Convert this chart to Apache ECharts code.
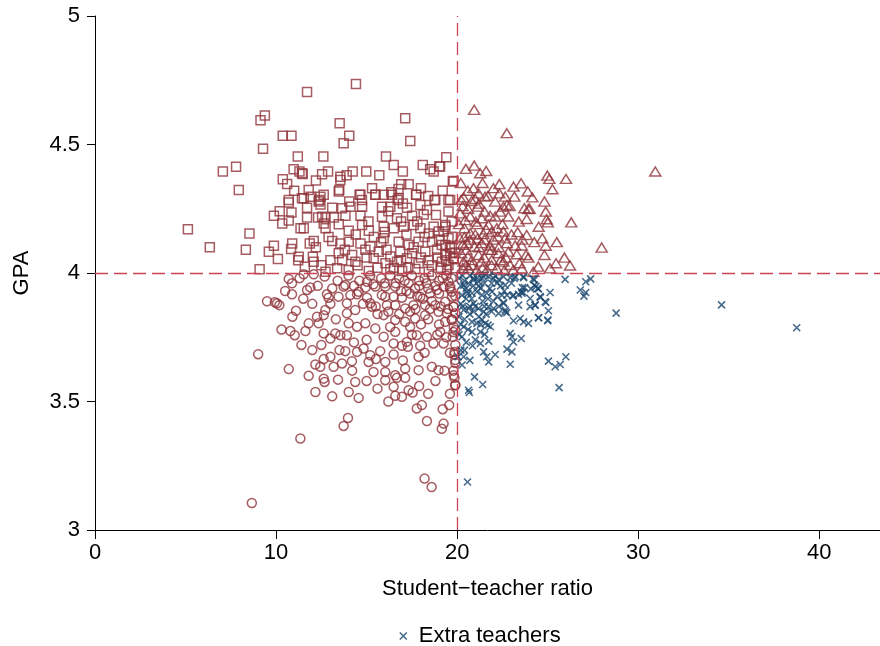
<!DOCTYPE html>
<html>
<head>
<meta charset="utf-8">
<script src="https://cdn.jsdelivr.net/npm/echarts@6/dist/echarts.min.js"></script>
<style>
html,body{margin:0;padding:0;background:#fff;}
#chart{width:880px;height:646px;}
</style>
</head>
<body>
<div id="chart"></div>
<script>
// Quadrant groups: [student-teacher ratio, GPA]
const squaresData = [
[11.71,4.704],[9.38,4.613],[9.14,4.594],[10.37,4.534],[10.85,4.534],[9.28,4.483],[11.2,4.453],[7.79,4.413],[7.06,4.395],[10.97,4.404],
[11.29,4.395],[11.47,4.385],[10.37,4.365],[10.61,4.346],[7.94,4.323],[10.7,4.284],[11.53,4.291],[5.13,4.17],[6.34,4.1],
[14.41,4.735],[13.51,4.583],[14.04,4.534],[13.73,4.505],[17.13,4.602],[17.41,4.514],[12.61,4.453],[16.07,4.453],[11.43,4.388],[12.54,4.384],
[12.87,4.395],[13.55,4.375],[13.55,4.362],[14.23,4.395],[14.98,4.395],[17.0,4.395],[18.51,4.404],[18.7,4.395],[19.01,4.414],[19.76,4.356],
[11.8,4.323],[12.63,4.304],[13.49,4.323],[14.61,4.304],[15.48,4.304],[15.94,4.304],[16.36,4.314],[16.76,4.327],[16.91,4.345],[17.32,4.345],
[17.74,4.304],[18.75,4.284],[19.52,4.284],[14.04,4.278],[14.74,4.284],[16.71,4.284],[12.35,4.278],[11.43,4.291],
[10.7,4.274],[11.9,4.297],[11.71,4.254],[12.45,4.267],[12.39,4.284],[9.88,4.223],[10.85,4.235],[10.34,4.193],[10.7,4.204],[11.71,4.216],
[12.32,4.216],[12.73,4.216],[12.63,4.193],[11.35,4.174],[11.53,4.174],[8.53,4.154],[9.88,4.106],[9.6,4.083],[10.1,4.054],[10.89,4.115],
[10.83,4.093],[11.86,4.115],[12.08,4.125],[11.25,4.063],[11.22,4.05],[12.03,4.063],[12.08,4.044],[11.59,4.024],[9.09,4.015],[12.73,4.005],
[12.45,4.297],[13.46,4.317],[14.66,4.304],[15.49,4.304],[16.4,4.304],[16.77,4.291],[17.73,4.304],[18.79,4.284],
[13.1,4.254],[13.65,4.252],[14.11,4.258],[14.75,4.258],[15.85,4.258],[16.31,4.258],[17.23,4.254],[17.97,4.265],[18.33,4.245],[18.83,4.226],
[12.54,4.219],[13.19,4.216],[13.83,4.223],[14.66,4.223],[15.85,4.219],[16.68,4.213],[17.51,4.223],[18.15,4.228],
[12.73,4.174],[13.46,4.19],[14.01,4.164],[14.75,4.187],[15.12,4.164],[15.94,4.18],[16.5,4.174],[17.05,4.18],[17.6,4.187],[17.97,4.174],
[18.43,4.154],[18.98,4.161],[19.35,4.18],[13.1,4.125],[13.55,4.115],[14.01,4.122],[14.66,4.115],[15.21,4.103],[15.94,4.135],[16.77,4.122],
[17.32,4.109],[17.87,4.122],[18.61,4.122],[19.35,4.109],[19.71,4.141],[13.46,4.077],[14.2,4.07],[14.93,4.09],[15.67,4.083],[16.31,4.064],
[16.86,4.083],[17.51,4.077],[18.24,4.083],[18.89,4.09],[19.62,4.077],[13.65,4.05],[14.38,4.044],[15.39,4.057],[16.04,4.038],[16.68,4.044],
[17.23,4.057],[17.87,4.038],[18.43,4.05],[19.16,4.044],[19.8,4.057],[13.37,4.018],[14.01,4.012],[15.12,4.008],[16.31,4.016],[16.96,4.008],
[17.69,4.016],[18.43,4.005],[19.44,4.012],
[19.06,4.414],[19.8,4.358],[19.61,4.284],[19.52,4.239],[19.34,4.187],[19.7,4.2],[19.25,4.161],[19.52,4.135],[19.15,4.109],[19.7,4.096],
[19.34,4.07],[19.8,4.057],[19.52,4.031],[19.89,4.018],[8.33,4.09],[15.3,4.33],[16.2,4.24],[15.1,4.2],[18.0,4.33],[17.2,4.15],
[14.5,4.03],[15.0,4.06],[15.6,4.02],[15.8,4.12],[16.1,4.09],[16.5,4.02],[16.9,4.05],[17.3,4.02],[17.6,4.1],[18.0,4.06],
[18.2,4.14],[18.6,4.03],[18.9,4.06],[19.1,4.02],[19.4,4.05],[19.6,4.1],[19.9,4.08],[19.0,4.13],[18.7,4.18],[17.8,4.2],
[16.9,4.2],[16.0,4.16],[15.4,4.14],[14.4,4.15],[13.8,4.09],[13.0,4.05],[12.9,4.14],[12.2,4.1],[12.5,4.03],[17.0,4.27],
[18.4,4.3],[19.2,4.32],[13.9,4.38],[15.7,4.38],[16.5,4.42],[18.1,4.42],[19.4,4.45],[12.2,4.36],[11.0,4.32],[10.2,4.24]
];
const trianglesData = [
[20.94,4.635],[22.74,4.544],[20.48,4.405],[20.94,4.418],[21.27,4.388],[21.6,4.397],[22.33,4.346],[23.11,4.336],[23.53,4.349],[23.9,4.317],
[24.15,4.294],[24.98,4.379],[25.09,4.366],[26.01,4.366],[25.26,4.326],[24.82,4.278],[24.89,4.239],[24.94,4.209],[25.0,4.197],[26.3,4.197],
[27.98,4.099],[25.5,4.12],[25.92,4.06],[26.23,4.029],[25.46,4.038],[25.13,4.018],[24.82,4.07],[24.7,4.135],[24.89,4.106],[24.26,4.12],
[23.84,4.148],[23.34,4.159],[23.93,4.06],[23.44,4.038],[23.71,4.252],[23.84,4.21],[23.93,4.249],[22.83,4.22],[23.16,4.297],[22.65,4.297],
[22.33,4.31],[22.74,4.265],[22.55,4.258],[22.37,4.239],[22.1,4.278],[21.54,4.297],[21.18,4.31],[20.59,4.32],[20.35,4.294],[20.22,4.285],
[20.99,4.288],[21.14,4.258],[21.51,4.239],[21.82,4.223],[21.36,4.213],[20.72,4.22],[20.44,4.206],[20.16,4.232],[21.73,4.187],[22.19,4.174],
[22.55,4.161],[22.65,4.135],[22.24,4.142],[21.91,4.161],[21.45,4.151],[21.14,4.135],[20.72,4.155],[20.4,4.174],[20.16,4.135],[20.53,4.116],
[20.96,4.103],[21.36,4.116],[21.82,4.107],[22.74,4.116],[23.2,4.107],[23.57,4.107],[22.83,4.083],[23.29,4.073],[22.28,4.077],[21.73,4.09],
[21.18,4.07],[20.59,4.064],[20.22,4.077],[20.35,4.044],[20.81,4.031],[21.32,4.044],[21.91,4.051],[22.55,4.044],[22.92,4.031],[22.19,4.018],
[21.64,4.012],[21.08,4.012],[20.62,4.018],[24.21,4.005],[23.1,4.012],[23.57,4.018],[24.48,4.025],[21.03,4.2],[30.94,4.395],
[20.3,4.02],[20.5,4.09],[20.8,4.05],[21.0,4.15],[21.2,4.1],[21.5,4.06],[21.6,4.17],[21.9,4.03],[22.0,4.13],[22.4,4.05],
[20.1,4.19],[20.6,4.25],[21.2,4.27],[21.7,4.3],[22.5,4.19],[22.9,4.26],[23.4,4.2],[20.2,4.35],[20.9,4.33],[23.8,4.07],
[24.5,4.18],[24.0,4.25],[20.4,4.14],[22.1,4.22],
[20.3,4.11],[20.7,4.13],[21.1,4.19],[21.5,4.13],[21.9,4.09],[22.3,4.1],[22.7,4.06],[20.5,4.03],[21.4,4.02],[22.6,4.01],
[23.0,4.15],[23.6,4.13],[20.8,4.28],[21.4,4.35],[22.0,4.33],[20.3,4.26]
];
const circlesData = [
[10.7,3.977],[10.88,3.96],[10.88,3.917],[11.71,3.934],[11.89,3.944],[12.68,3.986],[11.52,3.995],[12.08,3.995],[12.81,3.917],[12.9,3.904],
[9.93,3.886],[10.18,3.875],[10.05,3.882],[11.1,3.853],[13.82,3.953],[13.73,3.947],[13.45,3.908],[13.91,3.882],[14.1,3.914],[14.47,3.917],
[14.56,3.927],[15.02,3.966],[14.93,3.943],[15.38,3.956],[15.48,3.947],[16.03,3.947],[15.02,3.904],[15.2,3.882],[15.29,3.869],[15.84,3.914],
[16.03,3.908],[16.49,3.908],[16.58,3.947],[16.95,3.904],[17.32,3.96],[17.68,3.94],[17.96,3.908],[18.51,3.921],[18.88,3.934],[19.25,3.947],
[19.52,3.966],[19.7,3.927],[19.34,3.888],[18.79,3.875],[18.23,3.875],[17.59,3.875],[17.13,3.862],[16.58,3.875],[16.12,3.875],[15.94,3.836],
[16.58,3.817],[17.13,3.81],[17.68,3.823],[18.23,3.836],[18.97,3.849],[19.43,3.843],[19.8,3.869],[19.34,3.81],[19.06,3.771],[19.25,3.726],
[18.69,3.726],[18.33,3.752],[17.77,3.758],[17.22,3.732],[16.58,3.771],[16.49,3.726],[15.94,3.752],[15.48,3.784],[14.93,3.804],[14.47,3.791],
[13.91,3.843],[14.01,3.804],[14.37,3.856],[12.72,3.856],[12.63,3.836],[12.26,3.83],[11.8,3.804],[12.35,3.804],[11.62,3.774],[10.79,3.774],
[11.03,3.758],[12.63,3.765],[13.0,3.745],[13.27,3.765],[13.55,3.758],[13.91,3.758],[13.82,3.696],[14.47,3.693],[14.83,3.706],[15.2,3.68],
[15.11,3.654],[15.75,3.696],[16.03,3.654],[16.49,3.683],[16.95,3.717],[17.28,3.713],[17.87,3.674],[17.96,3.717],[18.6,3.635],[18.97,3.622],
[17.87,3.622],[17.13,3.628],[16.58,3.602],[16.03,3.615],[15.38,3.615],[16.03,3.583],[16.67,3.592],[17.13,3.592],[16.49,3.557],[16.58,3.522],
[16.95,3.518],[17.32,3.544],[17.54,3.535],[17.77,3.473],[18.05,3.486],[18.33,3.424],[19.15,3.394],[19.25,3.414],[19.56,3.486],[19.85,3.592],
[19.89,3.563],[19.85,3.683],[19.89,3.661],[14.37,3.576],[14.56,3.514],[14.01,3.537],[13.42,3.585],[12.63,3.589],[12.68,3.576],[12.17,3.537],
[12.44,3.635],[12.17,3.644],[12.63,3.665],[13.0,3.674],[13.18,3.635],[13.64,3.648],[14.19,3.657],[15.51,3.665],[10.7,3.626],[9.01,3.684],
[11.34,3.356],[13.73,3.405],[13.97,3.436],[8.66,3.105],[18.2,3.2],[18.59,3.167],
[16.8,3.98],[17.1,3.97],[17.5,3.99],[17.9,3.97],[18.2,3.98],[18.6,3.99],[19.0,3.97],[19.4,3.99],[19.7,3.98],[16.9,3.93],
[17.4,3.92],[17.9,3.95],[18.4,3.94],[19.0,3.92],[19.6,3.94],[19.9,3.91],[18.1,3.9],[18.6,3.89],[19.1,3.87],[19.5,3.86],
[17.7,3.86],[18.4,3.82],[19.0,3.8],[19.7,3.82],[19.8,3.77],[19.4,3.75],[18.9,3.76],[19.9,3.72],[19.6,3.69],[19.9,3.65],
[19.8,3.62],[19.62,3.947],[19.71,3.908],[19.81,3.869],[19.9,3.843],[19.71,3.817],[19.81,3.791],[19.9,3.778],[19.75,3.752],[19.86,3.693],
[19.81,3.602],[19.9,3.564],[15.6,3.84],[16.3,3.79],[17.4,3.79],[18.0,3.8],[15.0,3.74],[14.3,3.73],[13.3,3.82],[13.0,3.88],
[14.0,3.99],[14.6,3.97],[15.2,3.99],[15.8,3.98],[16.3,3.99],[16.0,3.96],[16.6,3.96],[17.2,3.93],[17.8,3.91],[18.3,3.96],
[18.8,3.95],[19.2,3.98],[18.5,3.86],[17.4,3.85],[16.8,3.84],[16.2,3.85],[15.5,3.87],[14.8,3.88],[14.3,3.95],[13.4,3.97],
[13.1,3.94],[12.3,3.95],[11.3,3.98],[12.0,3.88],[11.5,3.9],[10.9,3.83],[11.4,3.72],[12.0,3.7],[12.5,3.72],[13.5,3.7],
[14.2,3.62],[15.6,3.55],[15.0,3.58],[16.2,3.5],[17.0,3.66],[17.5,3.76],[18.2,3.69],[18.8,3.58],[18.4,3.53],[19.3,3.62],
[19.6,3.53],[19.2,3.47],[17.9,3.56],[10.3,3.78],[10.5,3.93],[9.5,3.89],[11.8,3.6],[13.1,3.52]
];
const extraData = [
[20.36,3.953],[20.63,3.96],[20.91,3.973],[21.18,3.966],[21.37,3.979],[21.55,3.992],[21.74,3.986],[22.01,3.979],[22.29,3.973],[22.56,3.986],
[22.93,3.982],[23.21,3.986],[23.67,3.982],[24.25,3.973],[24.35,3.947],[24.49,3.938],[23.72,3.943],[23.54,3.927],[20.27,3.914],[20.54,3.927],
[20.82,3.921],[21.09,3.927],[21.37,3.914],[21.64,3.921],[21.92,3.927],[22.2,3.908],[22.47,3.914],[22.75,3.914],[23.11,3.914],[23.39,3.917],
[23.57,3.921],[24.03,3.901],[24.31,3.875],[24.58,3.908],[24.86,3.888],[24.03,3.869],[23.39,3.875],[22.56,3.882],[20.36,3.856],[20.63,3.862],
[20.91,3.882],[21.18,3.862],[21.46,3.849],[21.74,3.869],[22.01,3.862],[22.29,3.843],[22.66,3.849],[23.11,3.814],[23.48,3.823],[23.67,3.81],
[23.94,3.804],[24.49,3.826],[25.01,3.817],[20.82,3.81],[21.09,3.804],[21.37,3.817],[21.55,3.804],[21.7,3.797],[21.83,3.791],[20.36,3.791],
[20.27,3.752],[20.82,3.771],[21.28,3.771],[21.52,3.761],[21.74,3.735],[22.93,3.765],[23.02,3.752],[23.11,3.732],[23.54,3.745],[20.85,3.717],
[21.28,3.726],[22.75,3.704],[23.02,3.693],[21.46,3.693],[22.1,3.683],[20.05,3.674],[20.36,3.674],[20.27,3.642],[21.74,3.654],[21.64,3.674],
[22.93,3.645],[25.04,3.657],[25.41,3.635],[25.69,3.644],[26.0,3.674],[20.96,3.596],[21.41,3.566],[20.63,3.544],[20.67,3.535],[25.63,3.554],
[34.6,3.876],[38.75,3.787],[28.78,3.844],[20.57,3.187],
[25.96,3.975],[27.1,3.966],[27.37,3.977],[26.8,3.934],[27.1,3.924],[27.0,3.91],[25.13,3.924],[25.04,3.853],[25.0,3.814],[24.5,3.826],
[24.9,3.885],[24.6,3.905],[24.3,3.875],[22.56,3.885],[22.65,3.856],[22.74,3.846],[23.07,3.91],[22.65,3.953],[23.16,3.979],[23.66,3.986],
[23.6,3.943],[24.2,3.977],[24.27,3.953],[24.45,3.94],[24.07,3.938],[23.66,3.924],
[20.1,3.98],[20.3,3.99],[20.5,3.94],[20.7,3.99],[20.9,3.95],[21.1,3.98],[21.3,3.94],[21.5,3.96],[21.9,3.96],[22.1,3.99],
[22.4,3.95],[20.2,3.88],[20.5,3.9],[20.8,3.9],[21.0,3.87],[21.4,3.89],[21.7,3.9],[22.0,3.89],[22.3,3.87],[20.1,3.83],
[20.4,3.82],[20.7,3.84],[21.2,3.83],[21.6,3.84],[20.1,3.76],[20.5,3.73],[20.2,3.7],[21.0,3.74],
[20.2,3.95],[20.4,3.97],[20.6,3.92],[20.9,3.98],[21.2,3.95],[21.4,3.99],[21.8,3.94],[22.2,3.96],[22.6,3.93],[23.0,3.96],
[20.3,3.87],[20.7,3.87],[21.5,3.87],[21.9,3.85],[20.2,3.8],[20.6,3.78],[20.9,3.85],[21.3,3.8],[20.4,3.7],[20.7,3.66]
];
const xTicks = [0, 10, 20, 30, 40];
const yTicks = [3, 3.5, 4, 4.5, 5];
const cutX = 20, cutY = 4;

const RED = '#90353b';
const BLUE = '#1a476f';
const FONT = '"Liberation Sans", Arial, Helvetica, sans-serif';
const XPATH = 'path://M0,0L10,10M10,0L0,10';

const chart = echarts.init(document.getElementById('chart'), null, {renderer: 'canvas'});
const hollow = (c, w) => ({color: 'rgba(0,0,0,0)', borderColor: c, borderWidth: w});

chart.setOption({
  animation: false,
  backgroundColor: '#fff',
  grid: {left: 95, right: 0, top: 16, bottom: 116},
  legend: {
    data: [{name: 'Extra teachers', icon: XPATH, itemStyle: {color: 'rgba(0,0,0,0)', borderColor: BLUE, borderWidth: 1.6}}],
    left: 394, top: 620,
    itemWidth: 7, itemHeight: 7,
    textStyle: {fontFamily: FONT, fontSize: 22, color: '#000', padding: [0, 0, 0, 7]}
  },
  xAxis: {
    type: 'value', min: 0, max: 43.35, interval: 10,
    name: 'Student\u2212teacher ratio', nameLocation: 'middle', nameGap: 48,
    nameTextStyle: {fontFamily: FONT, fontSize: 22, color: '#000'},
    axisLine: {show: true, onZero: false, lineStyle: {color: '#000', width: 1}},
    axisTick: {show: true, inside: false, length: 9, lineStyle: {color: '#000', width: 1}},
    axisLabel: {fontFamily: FONT, fontSize: 22, color: '#000', margin: 12, showMaxLabel: false,
      formatter: v => (xTicks.indexOf(v) >= 0 ? String(v) : '')},
    splitLine: {show: false}
  },
  yAxis: {
    type: 'value', min: yTicks[0], max: yTicks[yTicks.length - 1], interval: 0.5,
    name: 'GPA', nameLocation: 'middle', nameGap: 62, nameRotate: 90,
    nameTextStyle: {fontFamily: FONT, fontSize: 22, color: '#000'},
    axisLine: {show: true, onZero: false, lineStyle: {color: '#000', width: 1}},
    axisTick: {show: true, inside: false, length: 8, lineStyle: {color: '#000', width: 1}},
    axisLabel: {fontFamily: FONT, fontSize: 22, color: '#000', margin: 15},
    splitLine: {show: false}
  },
  series: [
    {name: 'sq', type: 'scatter', symbol: 'rect', symbolSize: 9, itemStyle: hollow(RED, 1.5), data: squaresData,
     markLine: {silent: true, symbol: 'none', label: {show: false},
       lineStyle: {color: '#cc4455', width: 1.3, type: [13, 6]},
       data: [{xAxis: cutX}, {yAxis: cutY}]}},
    {name: 'tri', type: 'scatter', symbol: 'triangle', symbolSize: [11, 9], itemStyle: hollow(RED, 1.5), data: trianglesData},
    {name: 'circ', type: 'scatter', symbol: 'circle', symbolSize: 9, itemStyle: hollow(RED, 1.5), data: circlesData},
    {name: 'Extra teachers', type: 'scatter', symbol: XPATH, symbolSize: 7,
     itemStyle: {color: 'rgba(0,0,0,0)', borderColor: BLUE, borderWidth: 1.6}, data: extraData}
  ]
});
</script>
</body>
</html>
